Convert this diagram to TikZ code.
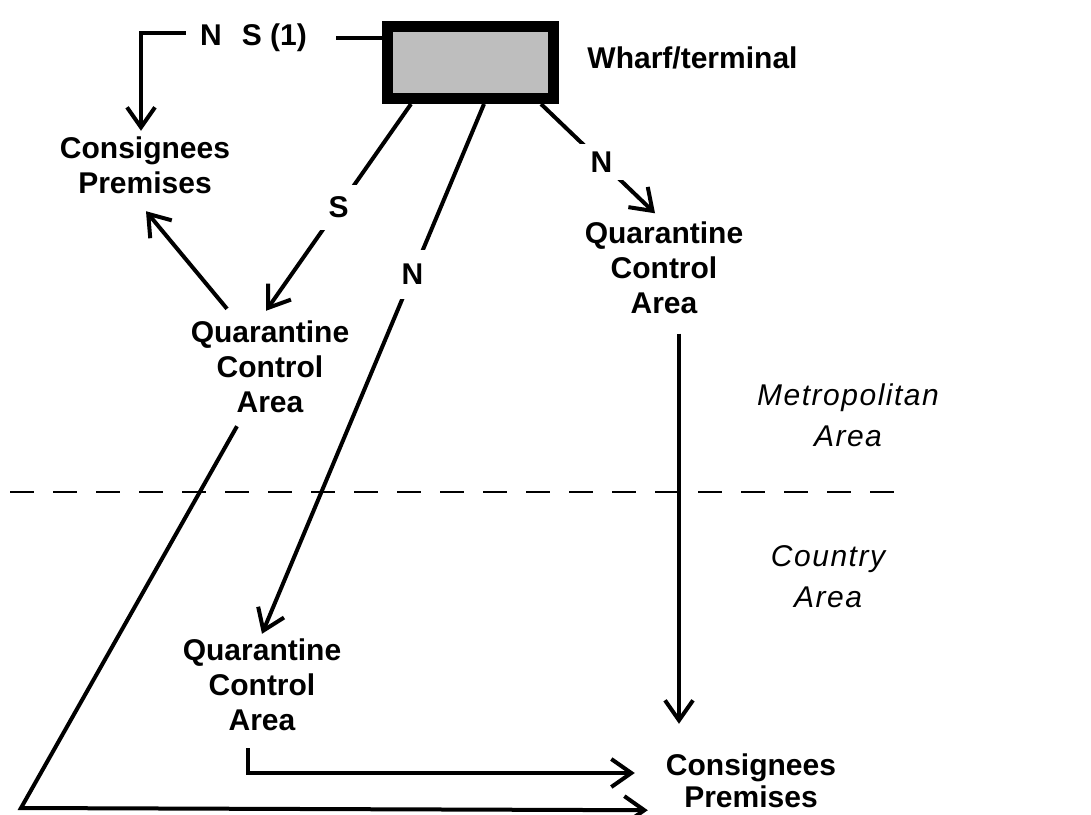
\documentclass[tikz,border=0pt]{standalone}
\usepackage{fontspec}
\setmainfont{Liberation Sans}
\newfontfamily\itfont[LetterSpace=5]{Liberation Sans}
\usetikzlibrary{arrows.meta,calc}
\definecolor{boxgray}{RGB}{190,190,190}
\begin{document}
\begin{tikzpicture}[x=1pt,y=-1pt,
  lbl/.style={font=\bfseries\fontsize{30}{35}\selectfont, align=center, inner sep=0pt},
  itl/.style={font=\itfont\itshape\fontsize{30}{41}\selectfont, align=center, inner sep=0pt},
  conn/.style={line width=4pt},
  arr/.style={conn, -{Straight Barb[length=20pt,width=28pt]}},
  onlbl/.style={lbl, fill=white},
  divider/.style={line width=2pt, dash pattern=on 24pt off 19pt}]
\useasboundingbox (0,0) rectangle (1091,814);

% nodes
\node[draw, line width=11pt, fill=boxgray, minimum width=166pt, minimum height=72pt, inner sep=0pt] (box) at (470.5,62.5) {};
\node[lbl] (wharf) at (692.5,58) {Wharf/terminal};
\node[lbl] (ns) at (253.5,38) {N\hspace{20pt}S (1)};
\node[lbl] (cp1) at (145,165.5) {Consignees\\Premises};
\node[lbl] (qca1) at (270,367) {Quarantine\\Control\\Area};
\node[lbl] (qca2) at (664,267.5) {Quarantine\\Control\\Area};
\node[lbl] (qca3) at (262,685) {Quarantine\\Control\\Area};
\node[lbl, font=\bfseries\fontsize{30}{32}\selectfont] (cp2) at (751,781) {Consignees\\Premises};
\node[itl] (metro) at (848,415) {Metropolitan\\Area};
\node[itl] (country) at (828,576.5) {Country\\Area};
\coordinate (corner) at (21,808);

% divider
\draw[divider] (10,492) -- (910,492);

% connectors
\draw[conn] ($(ns.east)+(29,0)$) -- (box.west |- ns.east);
\draw[arr] ($(ns.west)+(-14,-5)$) -| ($(cp1.north)+(-4,-6)$);
\draw[arr] ($(box.south)+(-59.5,0)$) -- node[onlbl, inner sep=12pt, pos=0.5] {S} ($(qca1.north)+(-4,-10)$);
\draw[arr] ($(box.south)+(13.5,0)$) -- node[onlbl, inner sep=14pt, pos=0.322] {N} ($(qca3.north)+(0,-5)$);
\draw[arr] ($(box.south)+(70.5,0)$) -- node[onlbl, inner ysep=8pt, inner xsep=12pt, pos=0.53] {N} ($(qca2.north)+(-9,-8)$);
\draw[arr] ($(qca1.north)+(-43,-12)$) -- ($(cp1.south)+(1,17)$);
\draw[arr] ($(qca1.south)+(-33,13)$) -- (corner) -- ($(cp2.south west)+(-18,2)$);
\draw[arr] ($(qca3.south)+(-14,17)$) |- ($(cp2.west)+(-31,-8)$);
\draw[arr] ($(qca2.south)+(15,20)$) -- ($(cp2.north)+(-72,-30)$);
\end{tikzpicture}
\end{document}
